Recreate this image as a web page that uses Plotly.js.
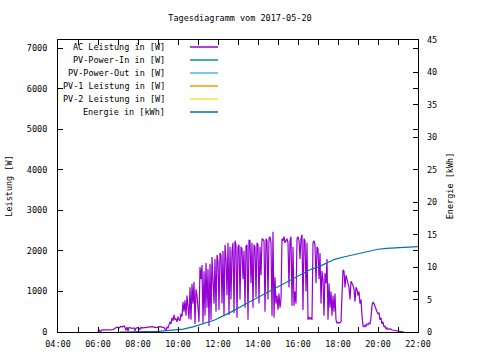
<!DOCTYPE html>
<html>
<head>
<meta charset="utf-8">
<script src="https://cdn.plot.ly/plotly-3.0.1.min.js"></script>
<style>html,body{margin:0;padding:0;background:#fff}#chart{width:480px;height:360px}</style>
</head>
<body>
<div id="chart"></div>
<script>
const day = "2017-05-20 ";
const seriesNames = ["AC Leistung in [W]", "PV-Power-In in [W]", "PV-Power-Out in [W]", "PV-1 Leistung in [W]", "PV-2 Leistung in [W]", "Energie in [kWh]"];
const seriesColors = ["#9400D3", "#009E73", "#56B4E9", "#E69F00", "#F0E442", "#0072B2"];

const acTimes = ["06:00","06:03","06:06","06:12","06:30","06:45","06:51","06:57","07:03","07:09","07:12","07:18","07:21","07:24","07:27","07:30","07:33","07:36","07:42","07:48","07:51","07:54","08:00","08:06","08:09","08:15","08:24","08:30","08:36","08:42","08:48","08:54","09:00","09:06","09:12","09:18","09:24","09:27","09:30","09:33","09:36","09:39","09:42","09:45","09:48","09:51","09:54","09:57","10:00","10:03","10:06","10:09","10:12","10:15","10:18","10:21","10:24","10:27","10:30","10:33","10:36","10:39","10:42","10:45","10:48","10:51","10:54","10:57","11:00","11:03","11:06","11:09","11:12","11:15","11:18","11:21","11:24","11:27","11:30","11:33","11:36","11:39","11:42","11:45","11:48","11:51","11:54","11:57","12:00","12:03","12:06","12:09","12:12","12:15","12:18","12:21","12:24","12:27","12:30","12:33","12:36","12:39","12:42","12:45","12:48","12:51","12:54","12:57","13:00","13:03","13:06","13:09","13:12","13:15","13:18","13:21","13:24","13:27","13:30","13:33","13:36","13:39","13:42","13:45","13:48","13:51","13:54","13:57","14:00","14:03","14:06","14:09","14:12","14:15","14:18","14:21","14:24","14:27","14:30","14:33","14:36","14:39","14:42","14:45","14:48","14:51","14:54","14:57","15:00","15:03","15:06","15:09","15:12","15:15","15:18","15:21","15:24","15:27","15:30","15:33","15:36","15:39","15:42","15:45","15:48","15:51","15:54","15:57","16:00","16:03","16:06","16:09","16:12","16:15","16:18","16:21","16:24","16:27","16:30","16:33","16:36","16:39","16:42","16:45","16:48","16:51","16:54","16:57","17:00","17:03","17:06","17:09","17:12","17:15","17:18","17:21","17:24","17:27","17:30","17:33","17:36","17:39","17:42","17:45","17:48","17:51","17:54","17:57","18:00","18:03","18:06","18:09","18:12","18:15","18:18","18:21","18:24","18:27","18:30","18:33","18:36","18:39","18:42","18:45","18:48","18:51","18:54","18:57","19:00","19:03","19:06","19:09","19:12","19:15","19:18","19:21","19:24","19:27","19:30","19:33","19:36","19:39","19:42","19:45","19:48","19:51","19:54","19:57","20:00","20:03","20:06","20:09","20:12","20:15","20:18","20:21","20:24","20:27","20:30","20:36","20:42","20:48","20:54","21:00","21:06","21:12","21:18"];
const acValues = [0,60,0,50,50,55,90,120,100,140,120,150,110,40,120,20,110,100,90,100,30,100,110,60,110,100,110,120,110,130,120,110,120,130,120,110,40,120,100,160,250,200,350,280,420,300,330,250,380,300,280,450,380,740,500,780,400,900,620,320,1100,300,1180,700,1230,200,1050,900,600,250,1600,1300,1650,220,1500,400,1700,600,1550,150,1680,300,1850,1200,700,1800,500,1900,1750,540,1950,1900,700,2000,400,2150,1800,900,2200,420,2100,800,2000,2200,470,2250,2150,350,2100,2150,800,2100,2050,1300,2000,600,2120,2150,300,2270,2250,1200,2200,600,2150,2100,860,2200,2150,700,2100,1400,2300,2280,2250,500,2300,2250,800,2300,2350,2200,400,2470,350,1350,700,900,550,950,600,800,2300,2250,2350,2200,2250,2300,2200,1100,2250,2350,650,2100,650,1000,700,2300,2350,2250,1800,2300,2400,540,2300,2250,1000,2200,300,370,320,350,300,2200,2250,2150,1200,2100,2050,1300,1950,700,1500,1300,400,1450,1200,1800,300,1200,600,1000,400,900,500,950,300,220,240,220,230,250,900,1530,1500,1100,1400,1300,1200,1100,800,1250,1200,1150,1050,750,1100,1050,900,1000,700,800,400,150,130,170,140,200,180,220,200,350,650,740,700,620,600,500,450,480,300,350,200,250,120,150,80,100,60,80,50,40,30,20,10,5,0];

const energyTimes = ["07:06","09:00","09:36","10:15","10:45","11:20","11:50","12:20","12:40","13:20","14:10","14:50","15:20","16:10","16:40","17:00","17:20","17:50","18:20","18:45","19:10","19:35","20:00","20:25","21:00","21:30","22:00"];
const energyValues = [0,0.1,0.25,0.45,0.8,1.35,1.85,2.6,3.1,4.25,5.6,6.7,7.5,8.8,9.7,10.0,10.5,11.2,11.6,11.9,12.2,12.5,12.75,12.9,13.0,13.1,13.15];

const emptyTimes = [];
const emptyValues = [];

const font = {family: "DejaVu Sans Mono, Liberation Mono, monospace", size: 8.5, color: "#000"};

const traces = [
  {x: acTimes.map(t => day + t), y: acValues, yaxis: "y"},
  {x: emptyTimes, y: emptyValues, yaxis: "y"},
  {x: emptyTimes, y: emptyValues, yaxis: "y"},
  {x: emptyTimes, y: emptyValues, yaxis: "y"},
  {x: emptyTimes, y: emptyValues, yaxis: "y"},
  {x: energyTimes.map(t => day + t), y: energyValues, yaxis: "y2"}
].map((t, i) => Object.assign(t, {
  type: "scatter", mode: "lines", name: seriesNames[i], showlegend: false,
  line: {color: seriesColors[i], width: 1.2}
}));

// custom gnuplot-like legend: text right-aligned, sample line on the right
const L = 58, R = 418, T = 40, B = 332;
const px = v => (v - L) / (R - L);
const py = v => (B - v) / (B - T);
const annotations = [];
const shapes = [];
seriesNames.forEach((n, i) => {
  const yy = 47 + i * 13;
  annotations.push({xref: "paper", yref: "paper", x: px(167), y: py(yy), text: n, showarrow: false,
    xanchor: "right", yanchor: "middle", font: font});
  shapes.push({type: "line", xref: "paper", yref: "paper", x0: px(190), x1: px(218), y0: py(yy), y1: py(yy),
    line: {color: seriesColors[i], width: 1.5}});
});

const layout = {
  width: 480, height: 360,
  margin: {l: L, r: 480 - R, t: T, b: 360 - B, pad: 0},
  paper_bgcolor: "#fff", plot_bgcolor: "#fff",
  font: font,
  title: {text: "Tagesdiagramm vom 2017-05-20", font: font, x: 0.5, xanchor: "center", y: 1 - 18/360, yanchor: "middle"},
  xaxis: {
    type: "date", range: [day + "04:00", day + "22:00"],
    tickformat: "%H:%M", dtick: 7200000, tick0: day + "04:00",
    ticks: "inside", ticklen: 5, tickcolor: "#000", tickwidth: 1,
    minor: {dtick: 3600000, ticks: "inside", ticklen: 5, tickcolor: "#000", tickwidth: 1, showgrid: false},
    showline: true, linecolor: "#000", linewidth: 1, mirror: "ticks",
    showgrid: false, zeroline: false, tickfont: font, ticklabelstandoff: 4
  },
  yaxis: {
    range: [0, 7200], dtick: 1000, tick0: 0,
    ticks: "inside", ticklen: 5, tickcolor: "#000",
    showline: true, linecolor: "#000", linewidth: 1, mirror: "ticks",
    showgrid: false, zeroline: false, tickfont: font, ticklabelstandoff: 8,
    title: {text: "Leistung [W]", font: font, standoff: 12}
  },
  yaxis2: {
    overlaying: "y", side: "right", range: [0, 45], dtick: 5, tick0: 0,
    ticks: "inside", ticklen: 5, tickcolor: "#000",
    showline: false, showgrid: false, zeroline: false, tickfont: font, ticklabelstandoff: 8,
    title: {text: "Energie [kWh]", font: font, standoff: 10}
  },
  annotations: annotations,
  shapes: shapes
};

Plotly.newPlot("chart", traces, layout, {displayModeBar: false, staticPlot: true});
</script>
</body>
</html>
